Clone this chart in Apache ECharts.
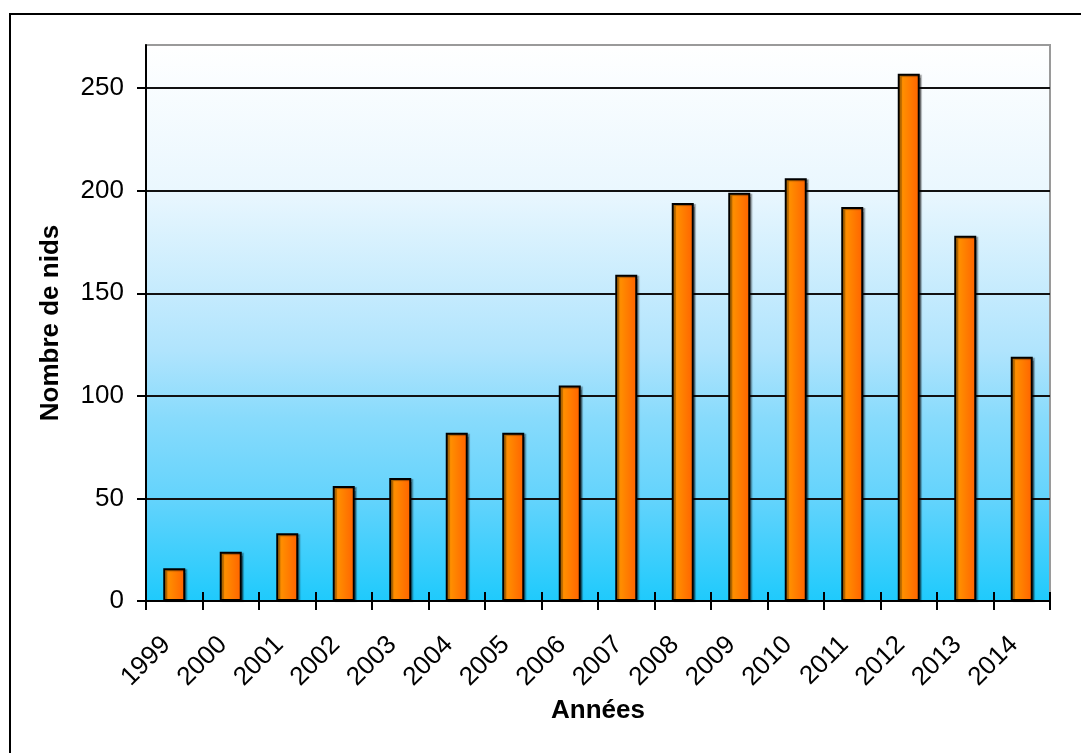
<!DOCTYPE html>
<html>
<head>
<meta charset="utf-8">
<script src="https://cdn.jsdelivr.net/npm/echarts@6/dist/echarts.min.js"></script>
<style>
  html, body { margin: 0; padding: 0; background: #fff; }
  #chart { width: 1081px; height: 753px; }
</style>
</head>
<body>
<div id="chart"></div>
<script>
// années et nombre de nids
const annees = ['1999', '2000', '2001', '2002', '2003', '2004', '2005', '2006',
                '2007', '2008', '2009', '2010', '2011', '2012', '2013', '2014'];
const nids = [16, 24, 33, 56, 60, 82, 82, 105, 159, 194, 199, 206, 192, 257, 178, 119];
const yTicks = [0, 50, 100, 150, 200, 250];

const police = "'Liberation Sans', Arial, sans-serif";

const chart = echarts.init(document.getElementById('chart'));

const option = {
  animation: false,
  backgroundColor: '#fff',
  graphic: [{
    type: 'rect',
    shape: { x: 10, y: 14, width: 1100, height: 800 },
    style: { fill: 'none', stroke: '#000', lineWidth: 2 },
    silent: true
  }],
  grid: {
    left: 146, right: 31, top: 45, bottom: 152,
    show: true,
    borderColor: '#9a9a9a',
    borderWidth: 2,
    backgroundColor: {
      type: 'linear', x: 0, y: 0, x2: 0, y2: 1,
      colorStops: [
        { offset: 0, color: '#ffffff' },
        { offset: 0.26, color: '#eaf7fe' },
        { offset: 0.55, color: '#b0e4fd' },
        { offset: 0.67, color: '#88dbfc' },
        { offset: 0.82, color: '#62d3fc' },
        { offset: 1, color: '#1ecafc' }
      ]
    }
  },
  xAxis: [
    {
      type: 'category',
      data: annees,
      boundaryGap: true,
      position: 'bottom',
      name: 'Années',
      nameLocation: 'middle',
      nameGap: 96,
      nameTextStyle: { fontFamily: police, fontSize: 26, fontWeight: 'bold', color: '#000' },
      axisLine: { lineStyle: { color: '#000', width: 2 } },
      axisTick: { show: true, length: 9, lineStyle: { color: '#000', width: 2 } },
      axisLabel: {
        interval: 0,
        rotate: 45,
        margin: 32,
        padding: [0, 11, 23, 0],
        fontFamily: police,
        fontSize: 26,
        color: '#000'
      },
      splitLine: { show: false }
    },
    {
      // petites graduations vers l'intérieur
      type: 'category',
      data: annees,
      boundaryGap: true,
      position: 'bottom',
      axisLine: { show: false },
      axisTick: { show: true, inside: true, length: 9, lineStyle: { color: '#000', width: 2 } },
      axisLabel: { show: false },
      splitLine: { show: false }
    }
  ],
  yAxis: {
    type: 'value',
    min: 0,
    max: 271,
    name: 'Nombre de nids',
    nameLocation: 'middle',
    nameGap: 82,
    nameTextStyle: { fontFamily: police, fontSize: 26, fontWeight: 'bold', color: '#000' },
    axisLine: { show: true, lineStyle: { color: '#000', width: 2 } },
    axisTick: { show: true, length: 9, customValues: yTicks, lineStyle: { color: '#000', width: 2 } },
    axisLabel: {
      customValues: yTicks,
      margin: 22,
      fontFamily: police,
      fontSize: 26,
      color: '#000'
    },
    splitLine: { show: true, lineStyle: { color: '#111', width: 2 } }
  },
  series: [{
    type: 'bar',
    data: nids,
    barWidth: 22,
    itemStyle: {
      color: {
        type: 'linear', x: 0, y: 0, x2: 1, y2: 0,
        colorStops: [
          { offset: 0, color: '#ff9c00' },
          { offset: 1, color: '#ff6200' }
        ]
      },
      borderColor: '#000',
      borderWidth: 2,
      shadowColor: 'rgba(0,0,0,0.35)',
      shadowOffsetX: 2,
      shadowOffsetY: 1,
      shadowBlur: 1
    }
  }]
};

chart.setOption(option);
</script>
</body>
</html>
